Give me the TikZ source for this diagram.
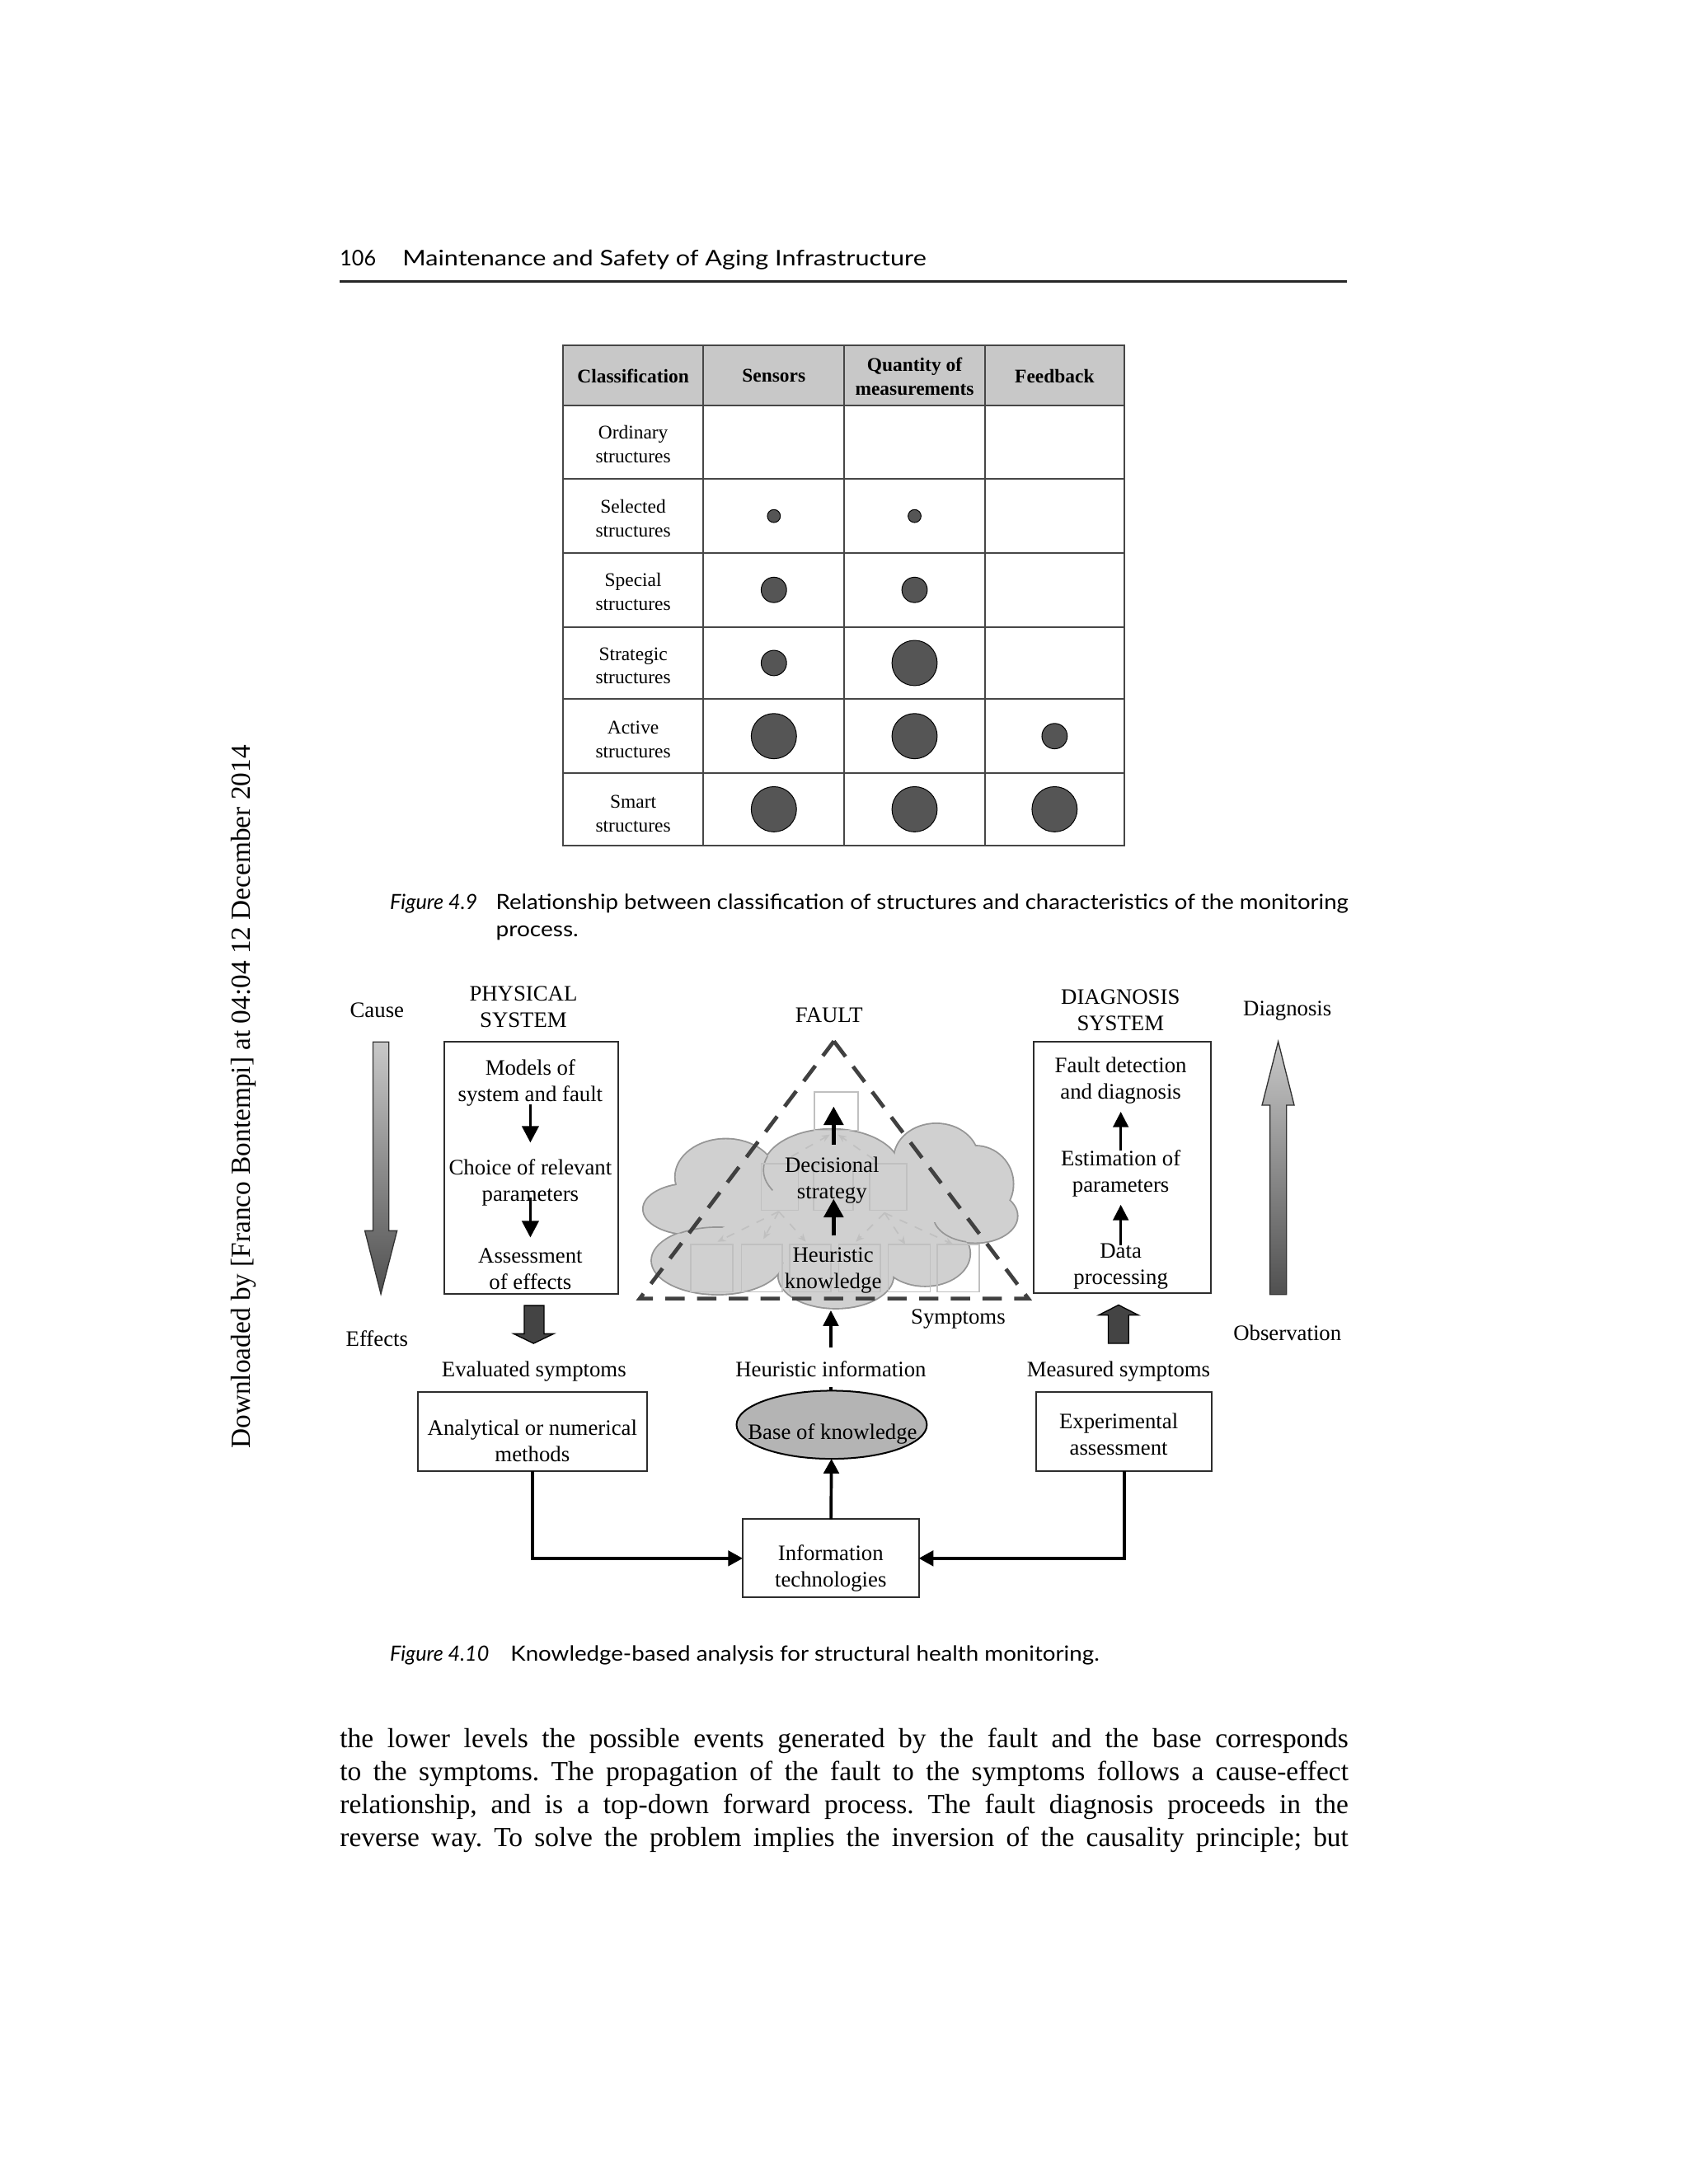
\documentclass[tikz,border=0pt]{standalone}
\usepackage{fontspec}
\usepackage{graphicx}
\setmainfont{Liberation Serif}
\newfontfamily\gillfont{Lato}
\usetikzlibrary{arrows.meta,shapes.geometric}
\definecolor{dotc}{RGB}{85,85,85}
\definecolor{hdrc}{RGB}{200,200,200}
\definecolor{gridc}{RGB}{70,70,70}
\definecolor{linec}{RGB}{45,45,45}
\definecolor{cloudc}{RGB}{208,208,208}
\definecolor{cloudl}{RGB}{150,150,150}
\definecolor{faintc}{RGB}{192,192,192}
\definecolor{blockc}{RGB}{68,68,68}
\definecolor{ellc}{RGB}{180,180,180}
\definecolor{dashc}{RGB}{64,64,64}
\definecolor{gradtop}{RGB}{200,200,200}
\definecolor{gradbot}{RGB}{80,80,80}
\frenchspacing
\begin{document}
\begin{tikzpicture}[x=0.505pt,y=-0.505pt,
  every node/.style={inner sep=0pt, outer sep=0pt},
  lbl/.style={font=\fontsize{8}{9.6}\selectfont, align=center},
  tbl/.style={font=\fontsize{7}{8.6}\selectfont, align=center},
  tblh/.style={font=\fontsize{7}{8.6}\selectfont\bfseries, align=center},
  dotL/.style={circle, draw=black, line width=0.3pt, fill=dotc, minimum size=16.4pt},
  dotM/.style={circle, draw=black, line width=0.3pt, fill=dotc, minimum size=9.2pt},
  dotS/.style={circle, draw=black, line width=0.3pt, fill=dotc, minimum size=4.7pt},
  box/.style={draw=linec, line width=0.6pt},
  faintbox/.style={draw=faintc, line width=0.5pt},
  faintarr/.style={draw=faintc, line width=0.5pt, dashed, -{Stealth[length=3pt,width=2.5pt]}},
  arrP/.style={line width=1.1pt, -{Triangle[width=6pt,length=6pt]}},
  arrD/.style={line width=1pt, -{Triangle[width=5.5pt,length=5.6pt]}},
  arrF/.style={line width=1.4pt, -{Triangle[width=7pt,length=6.7pt]}},
  conn/.style={line width=1.1pt, -{Triangle[width=5.5pt,length=5.3pt]}},
  blockarrow/.style={fill=blockc, draw=black, line width=0.4pt},
  gradarrow/.style={top color=gradtop, bottom color=gradbot, draw=black!80, line width=0.4pt},
  hdr/.style={font=\gillfont\fontsize{7.8}{9.4}\selectfont, anchor=base west},
  capt/.style={font=\gillfont\fontsize{7.6}{10}\selectfont, anchor=base west},
  body/.style={font=\fontsize{10}{12}\selectfont, anchor=base west},
]
\useasboundingbox (0,0) rectangle (1212,1568);
\fill[white] (0,0) rectangle (1212,1568);

% ---------- running head ----------
\node[hdr] (pgnum) at (244,190.9) {\resizebox{13.1pt}{\height}{106}};
\node[hdr] (runhead) at (289,190.9) {\resizebox{189.8pt}{\height}{Maintenance and Safety of Aging Infrastructure}};
\draw[line width=0.8pt, black!85] (243.9,202.2) -- (966.9,202.2);

% ---------- watermark ----------
\node[font=\fontsize{10}{12}\selectfont, rotate=90] (wm) at (175,787.5)
  {\resizebox{255pt}{\height}{Downloaded by [Franco Bontempi] at 04:04 12 December 2014}};

% ---------- table (Figure 4.9) ----------
\fill[hdrc] (404,248) rectangle (807,291);
\draw[gridc, line width=0.6pt] (404,248) rectangle (807,607);
\foreach \yy in {291,344,397,450,502,555} \draw[gridc, line width=0.6pt] (404,\yy) -- (807,\yy);
\foreach \xx in {505,606,707} \draw[gridc, line width=0.6pt] (\xx,248) -- (\xx,607);

\node[tblh] (h1) at (454.5,270) {Classification};
\node[tblh] (h2) at (555.5,270) {Sensors};
\node[tblh] (h3) at (656.5,270.5) {Quantity of\\measurements};
\node[tblh] (h4) at (757,270) {Feedback};

\node[tbl] (r1) at (454.5,319) {Ordinary\\structures};
\node[tbl] (r2) at (454.5,372) {Selected\\structures};
\node[tbl] (r3) at (454.5,425) {Special\\structures};
\node[tbl] (r4) at (454.5,478) {Strategic\\structures};
\node[tbl] (r5) at (454.5,531) {Active\\structures};
\node[tbl] (r6) at (454.5,584) {Smart\\structures};

\node[dotS] (d22) at (555.5,370.5) {};
\node[dotS] (d23) at (656.5,370.5) {};
\node[dotM] (d32) at (555.5,423.5) {};
\node[dotM] (d33) at (656.5,423.5) {};
\node[dotM] (d42) at (555.5,476) {};
\node[dotL] (d43) at (656.5,476) {};
\node[dotL] (d52) at (555.5,528.5) {};
\node[dotL] (d53) at (656.5,528.5) {};
\node[dotM] (d54) at (757,528.5) {};
\node[dotL] (d62) at (555.5,581) {};
\node[dotL] (d63) at (656.5,581) {};
\node[dotL] (d64) at (757,581) {};

% ---------- caption 4.9 ----------
\node[capt] (c9f) at (280,652.9) {\resizebox{31.7pt}{\height}{\itshape Figure 4.9}};
\node[capt] (c9a) at (356,652.9) {\resizebox{309pt}{\height}{Relationship between classification of structures and characteristics of the monitoring}};
\node[capt] (c9b) at (356,672.6) {\resizebox{29.9pt}{\height}{process.}};

% ---------- Figure 4.10 ----------
% left side
\node[lbl] (cause) at (270.6,725.5) {Cause};
\node[lbl] (effects) at (270.6,960.9) {Effects};
\path[gradarrow] (267.7,748) -- (279.1,748) -- (279.1,883.6) -- (285,883.6) -- (273.4,929) -- (261.9,883.6) -- (267.7,883.6) -- cycle;

\node[lbl] (phys) at (375.7,723) {PHYSICAL\\SYSTEM};
\node[box, minimum width=63.1pt, minimum height=91.4pt] (pbox) at (381.3,838.3) {};
\node[lbl] (m1) at (380.7,777.4) {Models of\\system and fault};
\node[lbl] (m2) at (380.7,849.2) {Choice of relevant\\parameters};
\node[lbl] (m3) at (380.7,911) {Assessment\\of effects};
\draw[arrP, shorten <=-0.8pt, shorten >=6.1pt] (m1) -- (m2);
\draw[arrP, shorten <=-3.1pt, shorten >=3.9pt] (m1 |- m2.south) -- (m3);
\path[blockarrow] (376.3,937.3) -- (390.5,937.3) -- (390.5,957.6) -- (397.4,957.6) -- (383,964.5) -- (368.8,957.6) -- (376.3,957.6) -- cycle;

\node[lbl] (evals) at (383.3,984.5) {Evaluated symptoms};
\node[box, minimum width=83.1pt, minimum height=28.6pt] (anal) at (382.15,1027.9) {};
\node[lbl] (analt) at (382.15,1034.5) {Analytical or numerical\\methods};

% centre: cloud (outer contour only)
\foreach \cx/\cy/\rx/\ry in {521/845/36/27, 597/840/49/29, 672/832/30/25, 700/850/27/27,
    496/868/34/18, 700/873/30/19, 515/905/47/24, 664/900/32/23, 600/916/41/23}
  \path[draw=cloudl, line width=1.1pt] (\cx,\cy) ellipse [x radius=\rx, y radius=\ry];
\foreach \cx/\cy/\rx/\ry in {521/845/36/27, 597/840/49/29, 672/832/30/25, 700/850/27/27,
    496/868/34/18, 700/873/30/19, 515/905/47/24, 664/900/32/23, 600/916/41/23}
  \path[fill=cloudc] (\cx,\cy) ellipse [x radius=\rx, y radius=\ry];
\fill[cloudc] (597,870) ellipse [x radius=85, y radius=40];
% a few inner bump arcs
\begin{scope}
  \clip (521,845) ellipse [x radius=36, y radius=27];
  \draw[cloudl, line width=0.5pt] (597,840) ellipse [x radius=49, y radius=29];
\end{scope}
\begin{scope}
  \clip (664,900) ellipse [x radius=32, y radius=23];
  \draw[cloudl, line width=0.5pt] (700,873) ellipse [x radius=30, y radius=19];
\end{scope}
\begin{scope}
  \clip (496,868) ellipse [x radius=34, y radius=18];
  \draw[cloudl, line width=0.5pt] (515,905) ellipse [x radius=47, y radius=24];
\end{scope}

% faint inner structure
\node[faintbox, minimum width=15.8pt, minimum height=13.9pt] (tb) at (600.4,797.8) {};
\draw[faintbox] (546.4,835.3) rectangle (573,868.8);
\draw[faintbox] (583.8,835.3) rectangle (612.4,868.8);
\draw[faintbox] (624.3,835.3) rectangle (650.9,868.8);
\foreach \xa/\xb in {496/526.2,532.2/561.7,567/596.6,602/632.1,637.5/667.7,672.6/702.8}
  \draw[faintbox] (\xa,893.5) rectangle (\xb,927.4);
\draw[faintarr] (559,869.8) -- (515,891.5);
\draw[faintarr] (559,869.8) -- (548,889.6);
\draw[faintarr] (559,869.8) -- (578.5,891.5);
\draw[faintarr] (635,870.8) -- (614.3,891.5);
\draw[faintarr] (635,870.8) -- (649.8,893.5);
\draw[faintarr] (635,870.8) -- (684.3,893.5);
\draw[faintarr] (568,830.4) -- (595.7,814.6);
\draw[faintarr] (627.2,832.4) -- (601.6,814.6);

% triangle
\draw[dashc, line width=1.4pt, dash pattern=on 7pt off 4.5pt, line join=miter] (598.6,747.5) -- (738.1,932.3) -- (459.2,932.3) -- cycle;

\node[lbl] (fault) at (595.1,729) {FAULT};
\node[lbl] (dec) at (597.2,847.2) {Decisional\\strategy};
\node[lbl] (heur) at (598,912) {Heuristic\\knowledge};
\draw[arrF, shorten <=4.3pt, shorten >=-1.7pt] (598.4,830.1) -- (tb.center -| 598.4,0);
\draw[arrF, shorten <=4.2pt, shorten >=-1.6pt] (heur.north -| 598.4,0) -- (dec.south -| 598.4,0);

\node[lbl] (symp) at (687.8,947) {Symptoms};
\coordinate (symtip) at (596.4,940.8);
\node[lbl] (hinfo) at (596.4,982.8) {Heuristic information};
\draw[arrD, shorten <=4.85pt] (hinfo.north) -- (symtip);
\draw[line width=1pt, shorten <=3.6pt, shorten >=-2.3pt] (hinfo.south) -- (596.4,998.4);

\node[ellipse, draw=black, line width=0.6pt, fill=ellc, minimum width=69pt, minimum height=24.7pt] (base) at (597,1022.9) {};
\node[lbl] (baset) at (597.6,1029.5) {Base of knowledge};

\node[box, minimum width=63.8pt, minimum height=28.4pt] (info) at (596.3,1118.8) {};
\node[lbl] (infot) at (596.3,1126) {Information\\technologies};

% right side
\node[lbl] (diagt) at (804.3,725.5) {DIAGNOSIS\\SYSTEM};
\node[box, minimum width=64.2pt, minimum height=91.3pt] (dbox) at (805.8,838.2) {};
\node[lbl] (dd1) at (804.5,775.7) {Fault detection\\and diagnosis};
\node[lbl] (dd2) at (804.5,842.4) {Estimation of\\parameters};
\node[lbl] (dd3) at (804.5,909) {Data\\processing};
\draw[arrD, shorten <=-0.8pt, shorten >=2.9pt] (dd3) -- (dd2);
\draw[arrD, shorten <=-0.2pt, shorten >=2.9pt] (dd2) -- (dd1);
\path[blockarrow] (795.5,964.5) -- (810.2,964.5) -- (810.2,944.2) -- (817.2,944.2) -- (802.9,936.9) -- (788.6,944.2) -- (795.5,944.2) -- cycle;

\node[lbl] (meas) at (802.9,984.5) {Measured symptoms};
\node[box, minimum width=63.8pt, minimum height=28.6pt] (expb) at (806.9,1027.9) {};
\node[lbl] (expt) at (803,1029.5) {Experimental\\assessment};

\node[lbl] (diag) at (924.1,726) {Diagnosis};
\node[lbl] (obs) at (924.1,956.7) {Observation};
\path[gradarrow] (911.6,929.4) -- (923.5,929.4) -- (923.5,793.5) -- (929,793.5) -- (917.5,747.8) -- (905.9,793.5) -- (911.6,793.5) -- cycle;

% bottom connectors
\draw[conn] (anal.south) |- (info.west);
\draw[conn] (expb.south) |- (info.east);
\draw[conn] (info) -- (base);

% ---------- caption 4.10 ----------
\node[capt] (c10f) at (280,1192.3) {\resizebox{35.9pt}{\height}{\itshape Figure 4.10}};
\node[capt] (c10a) at (366.5,1192.3) {\resizebox{213.4pt}{\height}{Knowledge-based analysis for structural health monitoring.}};

% ---------- body text ----------
\node[body] (l1) at (244,1254.5) {\makebox[365.6pt][s]{the lower levels the possible events generated by the fault and the base corresponds}};
\node[body] (l2) at (244,1278.2) {\makebox[365.6pt][s]{to the symptoms. The propagation of the fault to the symptoms follows a cause-effect}};
\node[body] (l3) at (244,1301.9) {\makebox[365.6pt][s]{relationship, and is a top-down forward process. The fault diagnosis proceeds in the}};
\node[body] (l4) at (244,1325.6) {\makebox[365.6pt][s]{reverse way. To solve the problem implies the inversion of the causality principle; but}};
\end{tikzpicture}
\end{document}
